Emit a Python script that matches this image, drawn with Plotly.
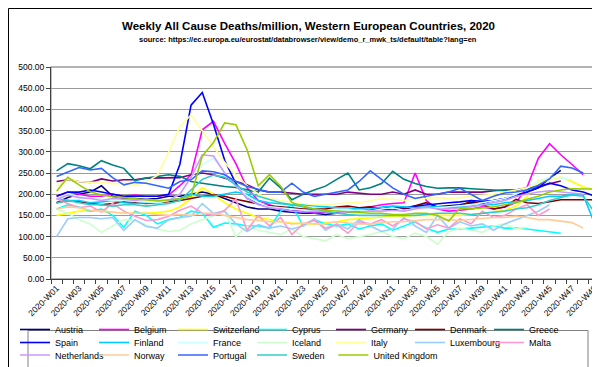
import plotly.graph_objects as go

weeks = [f"2020-W{i:02d}" for i in range(1, 50)]
tick_text = [w if i % 2 == 0 else "" for i, w in enumerate(weeks)]

austria = [180, 192, 200, 205, 220, 195, 190, 190, 188, 190,
           195, 195, 200, 205, 200, 190, 180, 170, 165, 165,
           160, 158, 155, 155, 152, 155, 158, 160, 162, 165,
           163, 165, 170, 168, 170, 172, 175, 180, 178, 185,
           190, 198, 205, 215, 238, 256]
belgium = [195, 205, 200, 195, 195, 200, 195, 198, 195, 195,
           198, 220, 245, 352, 372, 320, 272, 215, 185, 175,
           165, 160, 160, 155, 158, 160, 160, 165, 170, 175,
           178, 180, 250, 185, 165, 160, 162, 165, 170, 165,
           170, 180, 217, 285, 319, 293, 270, 246]
switzerland = [150, 155, 160, 160, 160, 158, 155, 155, 155, 157,
               160, 170, 190, 215, 200, 180, 165, 155, 145, 140,
               135, 132, 130, 130, 132, 135, 140, 142, 143, 145,
               148, 148, 150, 150, 150, 150, 150, 152, 155, 158,
               162, 172, 195, 232, 236, 240, 230, 217, 211]
cyprus = [165, 175, 170, 160, 165, 150, 122, 160, 150, 130,
          140, 145, 160, 155, 122, 132, 130, 125, 125, 120,
          160, 175, 125, 140, 130, 125, 130, 118, 125, 130,
          115, 125, 135, 120, 110, 118, 118, 120, 122, 125,
          120, 120, 118, 115, 112, 108]
germany = [230, 234, 230, 228, 236, 231, 234, 234, 238, 238,
           239, 239, 246, 250, 246, 238, 230, 222, 210, 205,
           205, 203, 200, 200, 200, 200, 205, 203, 200, 200,
           205, 200, 210, 200, 200, 205, 205, 205, 205, 208,
           210, 210, 215, 218, 225, 231]
denmark = [180, 185, 182, 178, 175, 178, 182, 180, 178, 180,
           182, 185, 190, 195, 198, 195, 188, 183, 178, 172,
           170, 168, 165, 165, 165, 170, 172, 168, 170, 165,
           170, 165, 172, 180, 170, 168, 170, 185, 175, 165,
           170, 188, 180, 178, 182, 187, 187, 187, 187]
greece = [255, 272, 267, 260, 279, 269, 261, 232, 238, 242,
          246, 242, 230, 226, 222, 218, 216, 210, 205, 238,
          215, 187, 200, 210, 219, 235, 250, 210, 215, 225,
          254, 235, 225, 218, 214, 215, 215, 213, 212, 210,
          208, 210, 212, 215]
spain = [195, 205, 205, 210, 205, 200, 195, 195, 195, 195,
         200, 270, 410, 440, 365, 280, 225, 190, 178, 170,
         165, 160, 158, 160, 158, 158, 160, 160, 162, 165,
         170, 168, 172, 175, 178, 180, 182, 185, 183, 185,
         190, 195, 205, 215, 226, 220, 210, 205, 196]
finland = [190, 185, 185, 180, 182, 185, 180, 178, 180, 180,
           185, 190, 200, 195, 195, 200, 205, 200, 185, 180,
           178, 175, 175, 172, 170, 168, 168, 165, 165, 170,
           172, 170, 168, 170, 170, 168, 170, 172, 175, 175,
           180, 182, 185, 190, 195, 195, 200, 198, 132]
france = [190, 200, 195, 190, 188, 185, 185, 183, 182, 180,
          185, 200, 240, 270, 285, 250, 220, 195, 180, 170,
          168, 165, 163, 160, 160, 160, 162, 162, 160, 165,
          168, 162, 165, 165, 168, 170, 172, 175, 180, 185,
          190, 200, 215, 230, 240, 238, 234]
iceland = [165, 155, 140, 130, 110, 125, 140, 138, 128, 118,
           112, 115, 130, 140, 150, 160, 100, 125, 115, 110,
           105, 118, 100, 95, 90, 105, 95, 100, 105, 112,
           100, 95, 108, 100, 82, 112, 120, 115, 110, 125,
           130, 118, 122]
italy = [220, 235, 230, 228, 228, 225, 225, 222, 228, 245,
         300, 360, 387, 350, 315, 275, 245, 220, 200, 190,
         185, 180, 178, 175, 175, 178, 180, 180, 185, 190,
         188, 185, 190, 190, 192, 190, 192, 195, 198, 200,
         205, 210, 215, 225, 235, 240]
luxembourg = [100, 142, 145, 145, 142, 145, 115, 140, 124, 120,
              140, 145, 148, 178, 155, 160, 130, 112, 128, 120,
              125, 118, 125, 142, 115, 130, 118, 140, 125, 112,
              118, 145, 125, 110, 150, 120, 135, 125, 130, 115,
              130, 140, 150, 160, 175]
malta = [190, 178, 168, 172, 158, 178, 160, 148, 138, 140,
         148, 162, 172, 155, 150, 162, 188, 115, 150, 125,
         145, 105, 130, 138, 120, 128, 108, 135, 130, 140,
         125, 142, 135, 118, 128, 120, 142, 130, 160, 145,
         150, 165, 175, 150, 165]
netherlands = [188, 198, 192, 190, 185, 190, 188, 185, 188, 185,
               185, 200, 240, 293, 290, 250, 220, 190, 175, 168,
               165, 160, 158, 160, 158, 155, 158, 158, 160, 160,
               162, 160, 165, 170, 165, 165, 168, 170, 175, 180,
               185, 195, 200, 205, 208, 205, 203, 200]
norway = [165, 170, 168, 162, 160, 158, 155, 155, 155, 152,
          150, 152, 150, 155, 155, 150, 145, 140, 138, 135,
          135, 130, 132, 130, 130, 135, 132, 130, 130, 132,
          135, 135, 138, 140, 140, 140, 138, 140, 142, 145,
          145, 148, 145, 140, 140, 137, 133, 120]
portugal = [242, 253, 263, 257, 261, 239, 222, 228, 226, 220,
            214, 230, 234, 255, 253, 246, 230, 218, 212, 205,
            205, 226, 205, 195, 200, 205, 210, 230, 255, 235,
            215, 200, 190, 195, 200, 205, 214, 200, 185, 195,
            203, 205, 210, 221, 236, 266, 262, 250]
sweden = [180, 185, 180, 175, 175, 172, 175, 175, 172, 175,
          178, 185, 210, 235, 245, 240, 222, 205, 195, 188,
          180, 175, 170, 165, 160, 155, 152, 150, 150, 150,
          150, 150, 150, 152, 155, 155, 155, 152, 155, 158,
          160, 165, 168, 175, 185, 192, 198, 195, 158]
uk = [207, 240, 222, 206, 198, 194, 192, 189, 187, 184,
      187, 189, 195, 290, 322, 368, 364, 305, 220, 246,
      219, 180, 172, 165, 162, 160, 158, 156, 155, 155,
      152, 152, 155, 155, 150, 137, 167, 165, 168, 170,
      175, 180, 188, 195, 205, 210, 213, 212, 212]

series = [
    ("Austria", austria, "#000080"),
    ("Belgium", belgium, "#FF00FF"),
    ("Switzerland", switzerland, "#FFFF00"),
    ("Cyprus", cyprus, "#00FFFF"),
    ("Germany", germany, "#800080"),
    ("Denmark", denmark, "#800000"),
    ("Greece", greece, "#008080"),
    ("Spain", spain, "#0000FF"),
    ("Finland", finland, "#00CCFF"),
    ("France", france, "#CCFFFF"),
    ("Iceland", iceland, "#CCFFCC"),
    ("Italy", italy, "#FFFF99"),
    ("Luxembourg", luxembourg, "#99CCFF"),
    ("Malta", malta, "#FF99CC"),
    ("Netherlands", netherlands, "#CC99FF"),
    ("Norway", norway, "#FFCC99"),
    ("Portugal", portugal, "#3366FF"),
    ("Sweden", sweden, "#33CCCC"),
    ("United Kingdom", uk, "#99CC00"),
]

# pixel geometry helpers (figure 600x367, plot area 43..592 x 59..271)
L, R, T, B = 43, 8, 59, 96
PW, PH = 600 - L - R, 367 - T - B
def px(x):
    return (x - L) / PW
def py(y):
    return (367 - B - y) / PH

FONT = "Liberation Sans, Arial, sans-serif"
COLS = 7
COL_W = 79.6
fig = go.Figure()

# legend rows: 3 rows of 7 columns; the last entry gets its own legend so its
# long label is not clipped by the entry width
def legend_for(i):
    if i == len(series) - 1:
        return "legend4"
    return ["legend", "legend2", "legend3"][i // COLS]

for i, (name, vals, color) in enumerate(series):
    fig.add_trace(go.Scatter(
        x=weeks[:len(vals)], y=vals, name=name, mode="lines",
        line=dict(color=color, width=1.6),
        legend=legend_for(i),
    ))

row_centers = [329, 342, 354.5]
legend_common = dict(
    orientation="h", xanchor="left", yanchor="top",
    bgcolor="rgba(0,0,0,0)", borderwidth=0,
    font=dict(family=FONT, size=9, color="#000000"),
    entrywidth=34, entrywidthmode="pixels", itemwidth=30,
    traceorder="normal",
)
x0 = 7
legends = {}
for k, ln in enumerate(["legend", "legend2", "legend3"]):
    legends[ln] = dict(legend_common, x=px(x0), y=py(row_centers[k] - 22))
uk_col = (len(series) - 1) % COLS
legends["legend4"] = dict(legend_common, entrywidth=80,
                          x=px(x0 + uk_col * COL_W), y=py(row_centers[2] - 22))

fig.update_layout(
    width=600, height=367,
    margin=dict(l=L, r=R, t=T, b=B, autoexpand=False),
    paper_bgcolor="white", plot_bgcolor="white",
    font=dict(family=FONT, size=9, color="#000000"),
    showlegend=True,
    **legends,
    xaxis=dict(
        type="category", categoryorder="array", categoryarray=weeks,
        range=[-0.5, len(weeks) - 0.5],
        tickmode="array", tickvals=weeks, ticktext=tick_text,
        tickson="boundaries", ticks="outside", ticklen=4,
        tickcolor="#404040", tickangle=-45,
        tickfont=dict(family=FONT, size=8.5, color="#000000"),
        showgrid=False, showline=True, linecolor="#404040", linewidth=1,
        zeroline=False,
    ),
    yaxis=dict(
        range=[0, 500], dtick=50, tick0=0, tickformat=".2f",
        ticks="outside", ticklen=4, tickcolor="#404040",
        tickfont=dict(family=FONT, size=8.5, color="#000000"),
        showgrid=True, gridcolor="#9a9a9a", gridwidth=1.3,
        showline=True, linecolor="#404040", linewidth=1,
        zeroline=False,
    ),
    shapes=[
        dict(type="rect", xref="paper", yref="paper", x0=0, x1=1, y0=0, y1=1,
             line=dict(color="#9a9a9a", width=1.3), layer="below"),
        dict(type="rect", xref="paper", yref="paper",
             x0=px(20), x1=px(580), y0=py(362.5), y1=py(322.5),
             line=dict(color="#808080", width=1), fillcolor="rgba(0,0,0,0)"),
        dict(type="rect", xref="paper", yref="paper",
             x0=px(0.5), x1=px(599.5), y0=py(366.5), y1=py(0.5),
             line=dict(color="#000000", width=1), fillcolor="rgba(0,0,0,0)"),
    ],
    annotations=[
        dict(text="<b>Weekly All Cause Deaths/million, Western European Countries, 2020</b>",
             xref="paper", yref="paper", x=px(300), y=py(18.5), xanchor="center",
             yanchor="middle", showarrow=False,
             font=dict(family=FONT, size=11.5, color="#000000")),
        dict(text="<b>source: https://ec.europa.eu/eurostat/databrowser/view/demo_r_mwk_ts/default/table?lang=en</b>",
             xref="paper", yref="paper", x=px(300), y=py(31), xanchor="center",
             yanchor="middle", showarrow=False,
             font=dict(family=FONT, size=7.5, color="#000000")),
    ],
)

fig.write_html("out.html")
